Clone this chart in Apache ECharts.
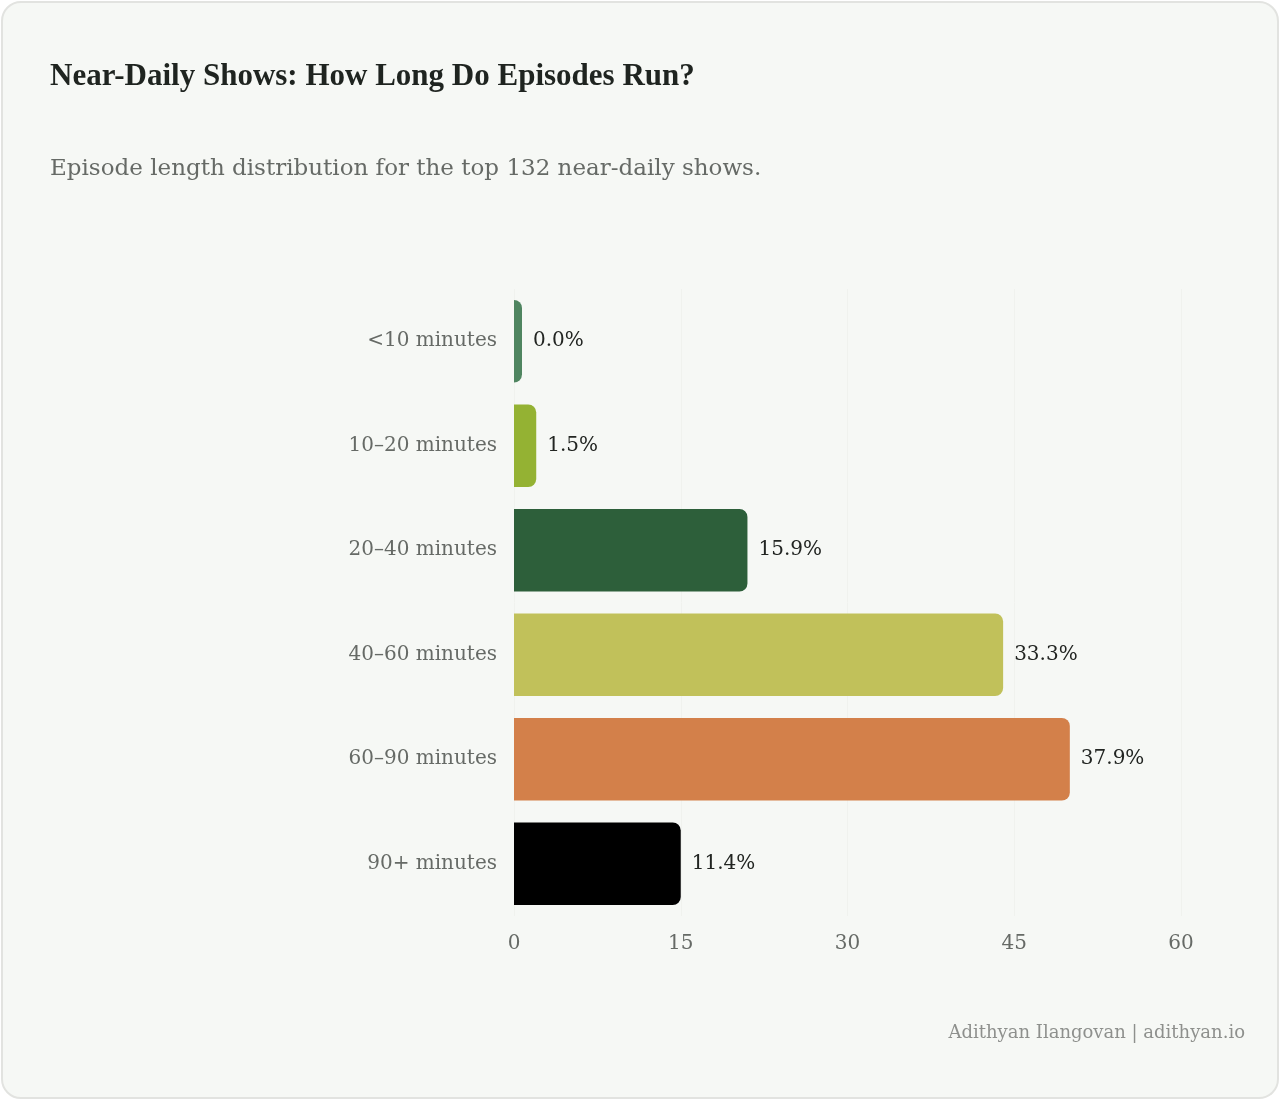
<!DOCTYPE html>
<html>
<head>
<meta charset="utf-8">
<script src="https://cdn.jsdelivr.net/npm/echarts@6/dist/echarts.min.js"></script>
<style>
  html, body { margin: 0; padding: 0; background: #ffffff; }
  #card {
    position: absolute; left: 1px; top: 1px; width: 1274px; height: 1094px;
    border: 2px solid #e2e3e0; border-radius: 20px; background: #f6f8f5;
  }
  #chart { position: absolute; left: 0; top: 0; width: 1280px; height: 1100px; }
</style>
</head>
<body>
<div id="card"></div>
<div id="chart"></div>
<script>
var categories = ['<10 minutes', '10\u201320 minutes', '20\u201340 minutes', '40\u201360 minutes', '60\u201390 minutes', '90+ minutes'];
var showCounts = [0, 2, 21, 44, 50, 15];
var shares = [0.0, 1.5, 15.9, 33.3, 37.9, 11.4];
var barColors = ['#4f8560', '#94b233', '#2d5f3a', '#c1c15a', '#d3804a', '#000000'];
var xTicks = [0, 15, 30, 45, 60];

(function () {
  var SERIF = '"DejaVu Serif", "Liberation Serif", serif';
  var HEAD = '"Liberation Serif", "DejaVu Serif", serif';
  var myChart = echarts.init(document.getElementById('chart'));
  myChart.setOption({
    backgroundColor: 'transparent',
    animation: false,
    textStyle: { fontFamily: SERIF },
    title: [
      {
        text: 'Near-Daily Shows: How Long Do Episodes Run?',
        left: 45, top: 56,
        textStyle: { fontFamily: HEAD, fontSize: 31, fontWeight: 'bold', color: '#1f2420' }
      },
      {
        text: 'Episode length distribution for the top 132 near-daily shows.',
        left: 45, top: 153,
        textStyle: { fontFamily: SERIF, fontSize: 23, fontWeight: 'normal', color: '#666a66' }
      },
      {
        text: 'Adithyan Ilangovan | adithyan.io',
        right: 30, top: 1019,
        textStyle: { fontFamily: SERIF, fontSize: 18, fontWeight: 'normal', color: '#8e908d' }
      }
    ],
    grid: { left: 514, right: 99, top: 289, bottom: 184, containLabel: false },
    xAxis: {
      type: 'value',
      min: xTicks[0],
      max: xTicks[xTicks.length - 1],
      interval: 15,
      axisLine: { show: false },
      axisTick: { show: false },
      splitLine: { show: true, lineStyle: { color: '#f0f2ee', width: 1 } },
      axisLabel: { margin: 18, fontSize: 20, color: '#666a66', fontFamily: SERIF }
    },
    yAxis: {
      type: 'category',
      data: categories,
      inverse: true,
      axisLine: { show: false },
      axisTick: { show: false },
      axisLabel: { margin: 17, fontSize: 20, color: '#666a66', fontFamily: SERIF }
    },
    series: [
      {
        type: 'bar',
        data: showCounts.map(function (v, i) {
          return { value: v, itemStyle: { color: barColors[i] } };
        }),
        barCategoryGap: '21%',
        barMinHeight: 8,
        itemStyle: { borderRadius: [0, 8, 8, 0] },
        label: {
          show: true,
          position: 'right',
          distance: 11,
          fontSize: 20,
          color: '#222522',
          fontFamily: SERIF,
          formatter: function (p) { return shares[p.dataIndex].toFixed(1) + '%'; }
        }
      }
    ]
  });
})();
</script>
</body>
</html>
